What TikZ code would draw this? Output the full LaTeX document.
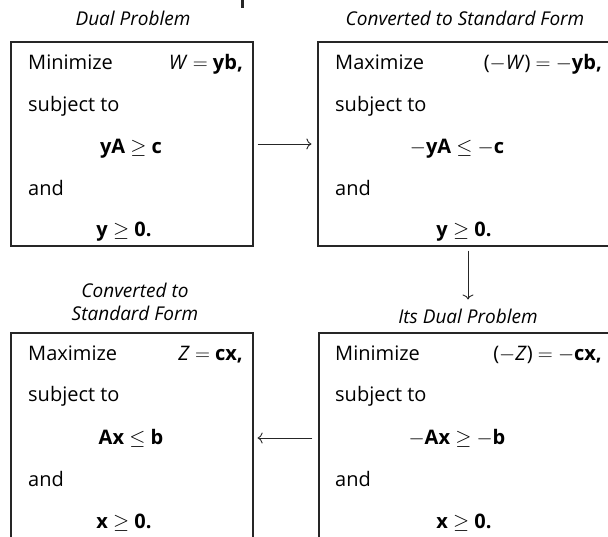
\documentclass[tikz,border=0pt]{standalone}
\usepackage{fontspec}
\setmainfont{Open Sans}
\usetikzlibrary{arrows.meta}
\begin{document}
\begin{tikzpicture}[x=1pt,y=-1pt,
  box/.style={draw=black!85,line width=1.2pt,inner sep=0pt},
  ttl/.style={font=\fontsize{19}{23}\selectfont\itshape,align=center,inner sep=0pt},
  txt/.style={font=\fontsize{20}{24}\selectfont,inner sep=0pt,anchor=base west},
  rt/.style={font=\fontsize{20}{24}\selectfont,inner sep=0pt,anchor=base east},
  eq/.style={font=\fontsize{20}{24}\selectfont,inner sep=0pt,anchor=base},
  arr/.style={draw=black!85,line width=0.9pt,-{To[length=5pt,width=11pt]}}]
\useasboundingbox (0,0) rectangle (608,537);
\clip (0,0) rectangle (608,537);
% fragment of cut-off heading
\fill[black!85] (241,0) rectangle (244,8);
% titles
\node[ttl] (t1) at (133,18) {Dual Problem};
\node[ttl] (t2) at (465,18) {Converted to Standard Form};
\node[ttl] (t3) at (135,302) {Converted to\\Standard Form};
\node[ttl] (t4) at (468,316) {Its Dual Problem};
% boxes
\node[box,minimum width=242pt,minimum height=204pt] (b1) at (132,144) {};
\node[box,minimum width=302pt,minimum height=204pt] (b2) at (469,144) {};
\node[box,minimum width=242pt,minimum height=210pt] (b3) at (132,438) {};
\node[box,minimum width=302pt,minimum height=210pt] (b4) at (470,438) {};
% box 1
\node[txt] (a1) at (28,70) {Minimize};
\node[rt] (a2) at (243,70) {\textit{W} $=$ \textbf{yb,}};
\node[txt] (a3) at (28,112) {subject to};
\node[eq] (a4) at (131,154) {\textbf{yA} $\geq$ \textbf{c}};
\node[txt] (a5) at (28,196) {and};
\node[eq] (a6) at (124,237) {\textbf{y} $\geq$ \textbf{0.}};
% box 2
\node[txt] (c1) at (335,70) {Maximize};
\node[rt] (c2) at (602,70) {($-$\textit{W}) $=$ $-$\textbf{yb,}};
\node[txt] (c3) at (335,112) {subject to};
\node[eq] (c4) at (457,154) {$-$\textbf{yA} $\leq$ $-$\textbf{c}};
\node[txt] (c5) at (335,196) {and};
\node[eq] (c6) at (464,237) {\textbf{y} $\geq$ \textbf{0.}};
% box 3
\node[txt] (d1) at (28,360) {Maximize};
\node[rt] (d2) at (243,360) {\textit{Z} $=$ \textbf{cx,}};
\node[txt] (d3) at (28,402) {subject to};
\node[eq] (d4) at (131,444) {\textbf{Ax} $\leq$ \textbf{b}};
\node[txt] (d5) at (28,486) {and};
\node[eq] (d6) at (124,528) {\textbf{x} $\geq$ \textbf{0.}};
% box 4
\node[txt] (e1) at (335,360) {Minimize};
\node[rt] (e2) at (602,360) {($-$\textit{Z}) $=$ $-$\textbf{cx,}};
\node[txt] (e3) at (335,402) {subject to};
\node[eq] (e4) at (457,444) {$-$\textbf{Ax} $\geq$ $-$\textbf{b}};
\node[txt] (e5) at (335,486) {and};
\node[eq] (e6) at (464,528) {\textbf{x} $\geq$ \textbf{0.}};
% connectors
\draw[arr,shorten <=4pt,shorten >=6pt] (b1.east) -- (b2.west);
\draw[arr,shorten <=4pt] (b2.south -| t4) -- ([yshift=9pt]t4.north);
\draw[arr,shorten <=6pt,shorten >=4pt] (b4.west) -- (b3.east);
\end{tikzpicture}
\end{document}
